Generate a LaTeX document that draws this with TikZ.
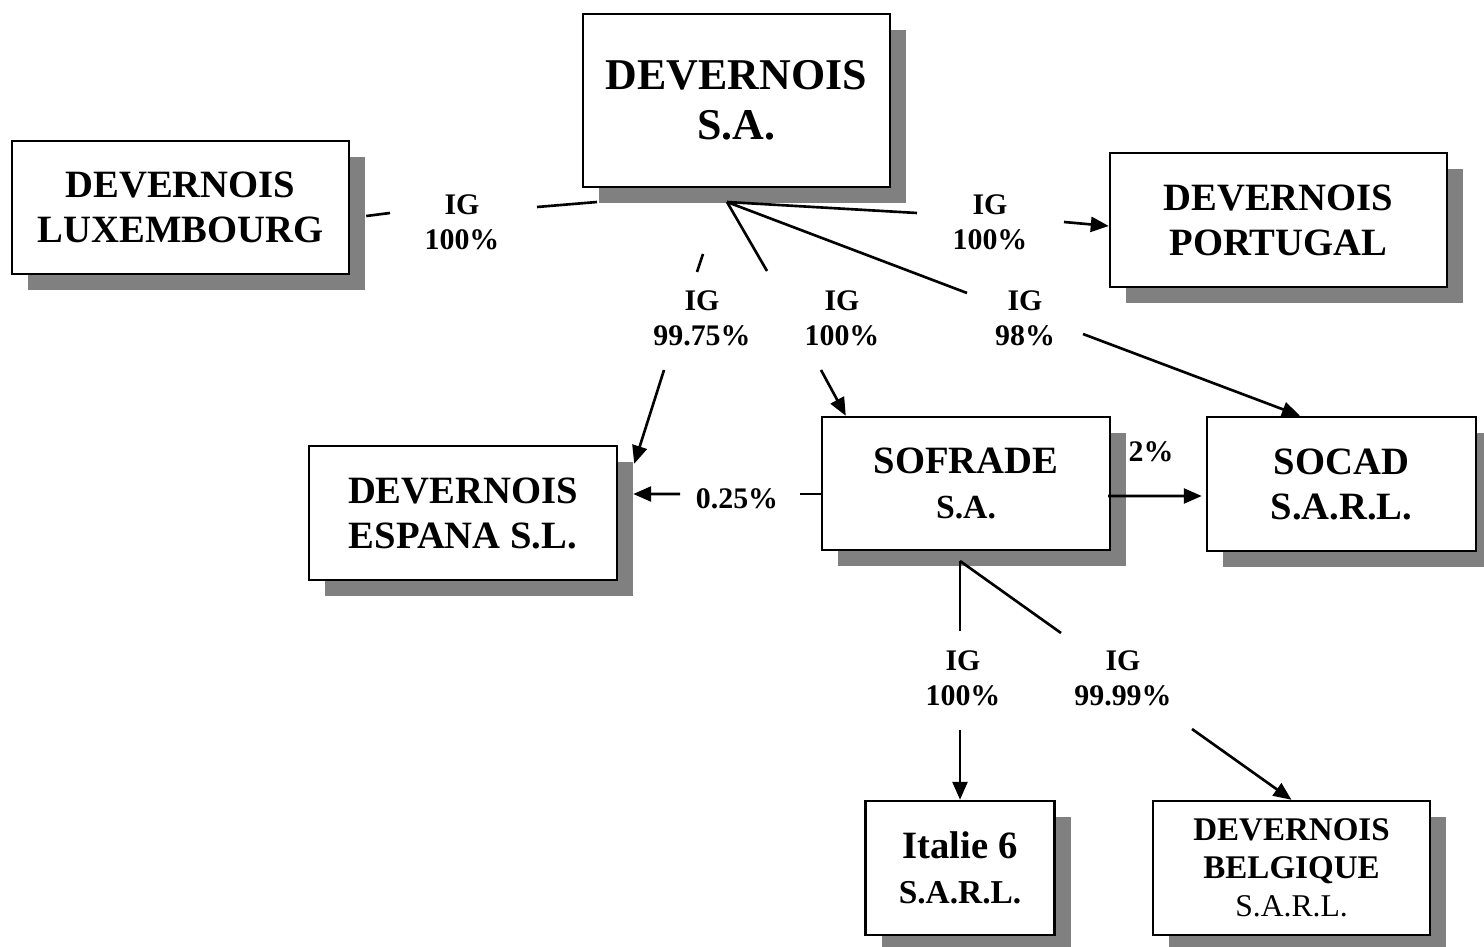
\documentclass[tikz,border=0pt]{standalone}
\usepackage{fontspec}
\setmainfont{Liberation Serif}
\usepackage{tikz}
\usetikzlibrary{arrows.meta, calc, shadows}

\begin{document}
\begin{tikzpicture}[
    % Styles
    entity/.style={draw, rectangle, line width=0.7pt, fill=white, align=center, inner sep=0pt,
                   font=\fontsize{11}{12.8}\selectfont\bfseries,
                   drop shadow={shadow xshift=1.6mm, shadow yshift=-1.6mm, fill=black!50, opacity=1}},
    link/.style={line width=0.75pt},
    arrow/.style={link, -{Triangle[length=1.8mm, width=1.5mm]}},
    pct/.style={font=\fontsize{8.5}{10}\selectfont\bfseries, align=center, inner sep=0pt}
  ]
    \useasboundingbox (0,0) rectangle (14.84,-9.47);

    % === Companies ===
    \node[entity, minimum width=30.7mm, minimum height=17.3mm,
          font=\fontsize{12.5}{14.3}\selectfont\bfseries] (devsa) at (7.365,-1.005) {DEVERNOIS\\S.A.};

    \node[entity, minimum width=33.7mm, minimum height=13.3mm] (lux) at (1.805,-2.075) {DEVERNOIS\\LUXEMBOURG};

    \node[entity, minimum width=33.7mm, minimum height=13.4mm] (portugal) at (12.785,-2.20) {DEVERNOIS\\PORTUGAL};

    \node[entity, minimum width=30.8mm, minimum height=13.4mm] (espana) at (4.63,-5.13) {DEVERNOIS\\ESPANA S.L.};

    \node[entity, minimum width=28.8mm, minimum height=13.3mm] (sofrade) at (9.66,-4.835) {SOFRADE\\{\fontsize{9.6}{12}\selectfont S.A.}};

    \node[entity, minimum width=26.9mm, minimum height=13.4mm] (socad) at (13.415,-4.84) {SOCAD\\S.A.R.L.};

    \node[entity, minimum width=18.9mm, minimum height=13.4mm] (italie) at (9.60,-8.68) {Italie 6\\{\fontsize{9.5}{12}\selectfont S.A.R.L.}};

    \node[entity, minimum width=27.7mm, minimum height=13.4mm,
          font=\fontsize{9.4}{10.8}\selectfont\bfseries] (belgique) at (12.915,-8.68) {DEVERNOIS\\BELGIQUE\\{\mdseries\fontsize{9}{10.8}\selectfont S.A.R.L.}};

    % === Junctions and breaks left for the labels ===
    \coordinate (hubA) at (7.27,-2.02);
    \coordinate (hubB) at (9.60,-5.61);
    \coordinate (lux1) at (5.97,-2.02);
    \coordinate (lux2) at (5.37,-2.07);
    \coordinate (lux3) at (3.90,-2.13);
    \coordinate (por1) at (9.17,-2.13);
    \coordinate (por2) at (10.64,-2.22);
    \coordinate (soc1) at (9.67,-2.93);
    \coordinate (soc2) at (10.83,-3.34);
    \coordinate (sof1) at (7.67,-2.71);
    \coordinate (sof2) at (8.21,-3.70);
    \coordinate (esp1) at (7.03,-2.54);
    \coordinate (esp2) at (6.97,-2.72);
    \coordinate (esp3) at (6.64,-3.70);
    \coordinate (min1) at (8.00,-4.94);
    \coordinate (min2) at (6.80,-4.94);
    \coordinate (ita1) at (9.60,-6.31);
    \coordinate (ita2) at (9.60,-7.30);
    \coordinate (bel1) at (10.61,-6.33);
    \coordinate (bel2) at (11.92,-7.29);

    % === Links from DEVERNOIS S.A. ===
    \draw[link] (lux1) -- (lux2);
    \draw[link] (lux3) -- ($(lux.east)+(0.16,-0.085)$);
    \node[pct] (lbllux) at (4.62,-2.22) {IG\\100\%};

    \draw[link] (hubA) -- (por1);
    \draw[arrow] (por2) -- ($(portugal.west)+(0,-0.06)$);
    \node[pct] (lblpor) at (9.90,-2.22) {IG\\100\%};

    \draw[link] (hubA) -- (soc1);
    \draw[arrow] (soc2) -- ($(socad.north)+(-0.415,0)$);
    \node[pct] (lblsoc) at (10.25,-3.18) {IG\\98\%};

    \draw[link] (hubA) -- (sof1);
    \draw[arrow] (sof2) -- ($(sofrade.north west)+(0.25,0)$);
    \node[pct] (lblsof) at (8.42,-3.18) {IG\\100\%};

    \draw[link] (esp1) -- (esp2);
    \draw[arrow] (esp3) -- ($(espana.north east)+(0.16,-0.19)$);
    \node[pct] (lblesp) at (7.02,-3.18) {IG\\99.75\%};

    % === Links from SOFRADE ===
    \draw[link] ($(sofrade.west)+(0,-0.105)$) -- (min1);
    \draw[arrow] (min2) -- ($(espana.east)+(0.15,0.19)$);
    \node[pct] (lblmin) at (7.37,-4.99) {0.25\%};

    \draw[arrow] ($(sofrade.east)+(-0.03,-0.125)$) -- ($(socad.west)+(-0.04,-0.12)$);
    \node[pct] (lbltwo) at (11.51,-4.52) {2\%};

    \draw[link] (hubB) -- (ita1);
    \draw[arrow] (ita2) -- (italie.north);
    \node[pct] (lblita) at (9.63,-6.78) {IG\\100\%};

    \draw[link] (hubB) -- (bel1);
    \draw[arrow] (bel2) -- (belgique.north);
    \node[pct] (lblbel) at (11.23,-6.78) {IG\\99.99\%};

  \end{tikzpicture}
\end{document}
